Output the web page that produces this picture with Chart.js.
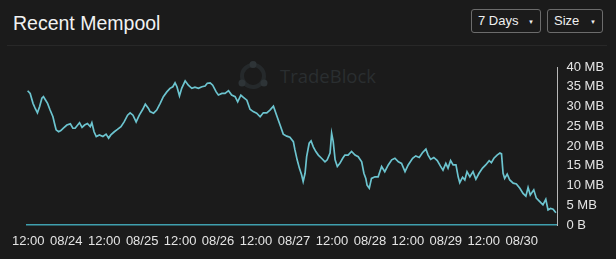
<!DOCTYPE html>
<html>
<head>
<meta charset="utf-8">
<script src="https://cdn.jsdelivr.net/npm/chart.js@4.4.1/dist/chart.umd.min.js"></script>
<style>
  html, body { margin: 0; padding: 0; background: #1b1b1b; }
  body { width: 616px; height: 259px; position: relative; overflow: hidden; font-family: "Liberation Sans", Arial, sans-serif; }
  .title { position: absolute; left: 13px; top: 12px; font-size: 19.5px; color: #f2f2f2; }
  .rule { position: absolute; left: 7px; width: 600px; top: 45px; height: 1px; background: #282828; }
  .dd { position: absolute; top: 9px; height: 24px; box-sizing: border-box; border: 1px solid #6c6c6c; border-radius: 3px; color: #f0f0f0; font-size: 13px; line-height: 22px; padding-left: 6px; }
  .dd .arr { position: absolute; top: 1px; font-size: 6px; }
  .mark { position: absolute; left: 237px; top: 61px; }
  .mark span { position: absolute; left: 43px; top: 2px; font-family: "Open Sans", sans-serif; font-size: 18.5px; color: #2a2e30; white-space: nowrap; }
  #chart { position: absolute; left: 0; top: 0; }
</style>
</head>
<body>
<div class="title">Recent Mempool</div>
<div class="dd" style="left:471px;width:70px">7 Days<span class="arr" style="left:56px">&#9660;</span></div>
<div class="dd" style="left:547px;width:56px">Size<span class="arr" style="left:42px">&#9660;</span></div>
<div class="rule"></div>
<div class="mark">
  <svg width="34" height="30" viewBox="0 0 34 30">
    <circle cx="16" cy="15" r="11" fill="none" stroke="#25292b" stroke-width="4"/>
    <circle cx="16" cy="3.5" r="3.5" fill="#2e3437"/>
    <circle cx="5" cy="22" r="3.5" fill="#2e3437"/>
    <circle cx="27" cy="22" r="3.5" fill="#2e3437"/>
  </svg>
  <span>TradeBlock</span>
</div>
<canvas id="chart" width="616" height="259"></canvas>
<script>
// hours since 08/23 00:00
const hours = [
  11.8, 12.6, 13.5, 14.2, 14.9, 15.6, 16.3, 16.8, 17.5, 18.1, 18.9, 19.8, 20.3, 20.8, 21.6, 22.3, 23.1,
  24.2, 25.3, 26.1, 26.8, 28.2, 29.0, 29.8, 30.7, 31.6, 32.1, 32.8, 33.5, 34.5, 35.6, 36.6, 37.4, 38.1,
  39.2, 40.2, 41.3, 42.3, 43.4, 44.2, 45.1, 46.1, 47.1, 48.2, 49.0, 50.0, 50.5, 51.6, 52.6, 53.7, 54.7,
  55.8, 56.8, 57.7, 58.4, 59.0, 59.8, 60.5, 61.6, 62.6, 63.7, 64.7, 65.8, 66.9, 67.9, 68.6, 69.5, 70.3,
  71.4, 72.1, 73.2, 74.2, 75.3, 76.3, 77.4, 78.2, 79.2, 80.0, 81.1, 82.1, 83.1, 84.2, 85.3, 86.3, 87.4,
  88.4, 89.5, 90.5, 91.6, 92.6, 93.7, 94.7, 95.8, 96.3, 97.0, 97.7, 98.4, 98.9, 99.5, 100.0, 100.8,
  101.4, 102.1, 102.9, 103.7, 104.7, 105.8, 106.5, 107.4, 107.9, 108.4, 109.0, 109.7, 110.5, 111.4,
  112.1, 113.1, 114.2, 115.3, 116.3, 117.4, 118.1, 118.7, 119.1, 119.8, 120.5, 121.6, 122.6, 123.7,
  124.7, 125.8, 126.9, 127.9, 129.0, 130.0, 131.1, 132.1, 133.5, 134.5, 135.6, 136.6, 137.7, 138.4,
  139.2, 140.2, 141.3, 142.3, 143.1, 144.0, 144.7, 145.5, 146.3, 147.2, 147.9, 148.4, 149.3, 150.0,
  150.7, 151.6, 152.6, 153.5, 154.5, 155.6, 156.6, 157.7, 158.4, 159.2, 160.2, 161.1, 161.6, 162.1,
  162.6, 163.4, 164.2, 165.3, 166.3, 167.4, 168.4, 169.3, 170.0, 170.7, 171.8, 172.6, 173.7, 174.7,
  175.6, 176.3, 177.1, 177.9, 178.8
];

const sizeMB = [
  34.0, 33.3, 30.8, 29.5, 28.4, 30.0, 32.1, 32.5, 31.6, 30.8, 29.1, 27.4, 25.7, 24.1, 23.6, 23.9, 24.5,
  25.3, 25.6, 24.5, 24.5, 25.9, 24.7, 25.3, 25.7, 24.9, 25.9, 23.6, 22.4, 22.8, 22.4, 23.0, 22.0, 22.8,
  23.6, 24.2, 24.9, 26.1, 27.8, 28.4, 27.8, 26.1, 27.8, 29.3, 30.6, 29.5, 28.7, 28.3, 29.1, 30.8, 32.5,
  33.7, 34.6, 35.0, 36.0, 35.0, 32.7, 34.6, 36.5, 35.4, 34.6, 34.9, 34.6, 35.0, 35.2, 35.9, 36.0, 35.4,
  33.7, 32.9, 33.3, 33.3, 34.0, 32.9, 32.5, 31.2, 32.9, 32.3, 31.6, 29.3, 28.7, 28.3, 27.4, 28.4, 28.4,
  29.1, 30.1, 27.8, 25.3, 23.0, 22.5, 22.2, 21.1, 19.0, 16.5, 14.4, 12.7, 11.0, 13.1, 17.3, 20.7,
  21.3, 19.8, 18.6, 17.7, 16.9, 16.0, 16.5, 18.2, 23.2, 21.1, 16.5, 14.8, 15.6, 16.9,
  17.7, 17.7, 18.6, 17.7, 17.3, 16.0, 13.1, 11.8, 10.1, 9.3, 11.8, 12.2, 12.2, 14.8,
  13.5, 15.2, 16.5, 16.9, 16.0, 15.6, 13.5, 15.2, 16.9, 17.5, 17.1, 18.3, 19.2, 17.7,
  16.6, 17.1, 16.3, 14.9, 13.9, 15.6, 14.4, 16.3, 15.2, 15.2, 12.2, 10.7, 12.1, 11.4,
  13.5, 12.2, 13.5, 11.6, 13.1, 14.4, 15.2, 16.3, 15.8, 16.9, 17.7, 18.2, 18.0, 13.1,
  11.8, 12.9, 11.4, 10.6, 10.4, 9.3, 8.0, 7.3, 9.5, 7.6, 8.9, 6.8, 5.9, 5.1,
  6.5, 3.8, 4.2, 4.0, 3.1
];

const xTickHours = [12, 24, 36, 48, 60, 72, 84, 96, 108, 120, 132, 144, 156, 168];
const xTickLabels = ['12:00', '08/24', '12:00', '08/25', '12:00', '08/26', '12:00', '08/27',
  '12:00', '08/28', '12:00', '08/29', '12:00', '08/30'];
const yTickValues = [0, 5, 10, 15, 20, 25, 30, 35, 40];
const yTickLabels = ['0 B', '5 MB', '10 MB', '15 MB', '20 MB', '25 MB', '30 MB', '35 MB', '40 MB'];

const points = hours.map((h, i) => ({ x: h, y: sizeMB[i] }));

new Chart(document.getElementById('chart'), {
  type: 'line',
  data: {
    datasets: [
      {
        data: points,
        borderColor: '#6cc4cf',
        borderWidth: 1.7,
        pointRadius: 0,
        tension: 0,
        fill: false
      }
    ]
  },
  options: {
    responsive: false,
    devicePixelRatio: 1,
    animation: false,
    layout: { padding: { left: 27, top: 67, right: 0, bottom: 0 } },
    plugins: { legend: { display: false }, tooltip: { enabled: false } },
    scales: {
      x: {
        type: 'linear',
        min: 11.6,
        max: 179.3,
        grid: { display: false, drawTicks: false },
        border: { display: true, color: '#3f9fae', width: 1.5 },
        afterBuildTicks: (scale) => {
          scale.ticks = xTickHours.map((v) => ({ value: v }));
        },
        afterFit: (scale) => { scale.height = 34; },
        ticks: {
          autoSkip: false,
          maxRotation: 0,
          padding: 9,
          color: '#e4e4e4',
          font: { family: '"Liberation Sans", Arial, sans-serif', size: 13 },
          callback: (v) => xTickLabels[xTickHours.indexOf(v)]
        }
      },
      y: {
        position: 'right',
        min: 0,
        max: 40,
        grid: { display: false, drawTicks: false },
        border: { display: true, color: '#b8b8b8', width: 1 },
        afterBuildTicks: (scale) => {
          scale.ticks = yTickValues.map((v) => ({ value: v }));
        },
        afterFit: (scale) => { scale.width = 58.5; },
        ticks: {
          padding: 9,
          color: '#e4e4e4',
          font: { family: '"Liberation Sans", Arial, sans-serif', size: 13 },
          callback: (v) => yTickLabels[yTickValues.indexOf(v)]
        }
      }
    }
  }
});
</script>
</body>
</html>
